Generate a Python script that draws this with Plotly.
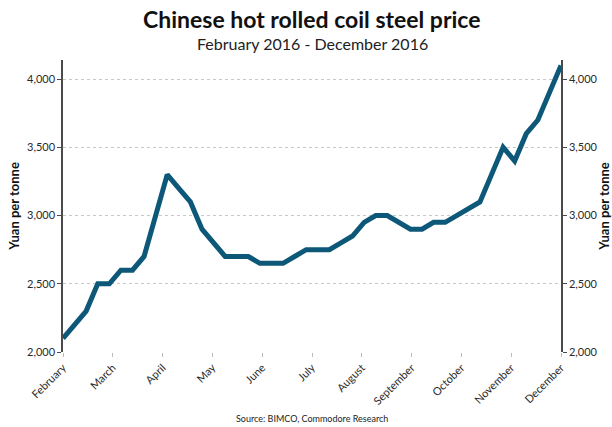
import plotly.graph_objects as go

# Weekly HRC price, Yuan per tonne, first week of February to first week of December 2016
price = [2100, 2200, 2300, 2500, 2500, 2600, 2600, 2700, 3000, 3300,
         3200, 3100, 2900, 2800, 2700, 2700, 2700, 2650, 2650, 2650,
         2700, 2750, 2750, 2750, 2800, 2850, 2950, 3000, 3000, 2950,
         2900, 2900, 2950, 2950, 3000, 3050, 3100, 3300, 3500, 3400,
         3600, 3700, 3900, 4100]
months = ["February", "March", "April", "May", "June", "July",
          "August", "September", "October", "November", "December"]
y_ticks = [2000, 2500, 3000, 3500, 4000]

n_weeks = len(price) - 1
weeks = list(range(len(price)))
month_pos = [k * n_weeks / (len(months) - 1) for k in range(len(months))]

LINE = "#0d5878"
AXIS = "#4a4a4a"
GRID = "#c8c8c8"
FONT = "Lato"
H, T, B = 427, 60, 75
plot_h = H - T - B


def paper_y(px):
    """Convert a pixel row measured from the top of the page to paper coordinates."""
    return 1 + (T - px) / plot_h


fig = go.Figure()
fig.add_trace(go.Scatter(x=weeks, y=price, mode="lines",
                         line=dict(color=LINE, width=5), showlegend=False))
# invisible copy to carry the mirrored right-hand axis
fig.add_trace(go.Scatter(x=weeks, y=price, mode="lines", yaxis="y2",
                         line=dict(color="rgba(0,0,0,0)", width=0),
                         showlegend=False, hoverinfo="skip"))

yr = [2000, 4140]
axis_title = dict(text="<b>Yuan per tonne</b>", font=dict(size=13, color="#111111"), standoff=4)
fig.update_layout(
    width=612, height=H,
    margin=dict(l=63, r=51, t=T, b=B),
    paper_bgcolor="white", plot_bgcolor="white",
    font=dict(family=FONT, color="#333333"),
    xaxis=dict(range=[0, n_weeks], tickvals=month_pos, ticktext=months,
               tickangle=-45, tickfont=dict(size=11, color="#2a2a2a"),
               showgrid=False, zeroline=False, showline=False, automargin=False,
               ticks="outside", ticklen=4, tickcolor="#bbbbbb"),
    yaxis=dict(range=yr, tickvals=y_ticks, tickformat=",", automargin=False,
               tickfont=dict(size=11, color="#2a2a2a"), title=axis_title,
               showgrid=True, gridcolor=GRID, griddash="dot", gridwidth=1,
               zeroline=False, showline=True, linecolor=AXIS, linewidth=1.5,
               ticks="outside", ticklen=4, tickcolor=AXIS),
    yaxis2=dict(range=yr, tickvals=y_ticks, tickformat=",", overlaying="y", side="right",
                automargin=False, tickfont=dict(size=11, color="#2a2a2a"), title=axis_title,
                showgrid=False, zeroline=False, showline=True, linecolor=AXIS, linewidth=1.5,
                ticks="outside", ticklen=4, tickcolor=AXIS),
    annotations=[
        dict(text="<b>Chinese hot rolled coil steel price</b>", xref="paper", yref="paper",
             x=0.5, y=paper_y(19), xanchor="center", yanchor="middle", showarrow=False,
             font=dict(family=FONT, size=23, color="#111111")),
        dict(text="February 2016 - December 2016", xref="paper", yref="paper",
             x=0.5, y=paper_y(43), xanchor="center", yanchor="middle", showarrow=False,
             font=dict(family=FONT, size=16, color="#222222")),
        dict(text="Source: BIMCO, Commodore Research", xref="paper", yref="paper",
             x=0.5, y=paper_y(418), xanchor="center", yanchor="middle", showarrow=False,
             font=dict(family=FONT, size=9, color="#222222")),
    ],
)

fig.write_html("out.html")
